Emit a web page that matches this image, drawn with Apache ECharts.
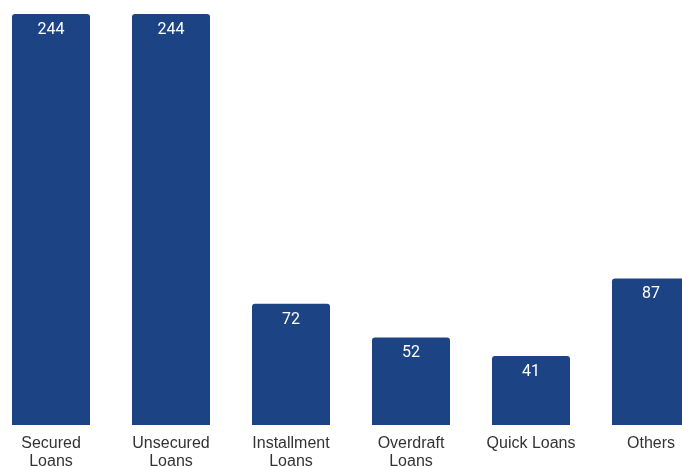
<!DOCTYPE html>
<html>
<head>
<meta charset="utf-8">
<script src="https://cdn.jsdelivr.net/npm/echarts@6/dist/echarts.min.js"></script>
<style>
  html, body { margin: 0; padding: 0; background: #fff; }
  #chart { width: 682px; height: 468px; }
</style>
</head>
<body>
<div id="chart"></div>
<script>
var categories = ['Secured\nLoans', 'Unsecured\nLoans', 'Installment\nLoans', 'Overdraft\nLoans', 'Quick Loans', 'Others'];
var counts = [244, 244, 72, 52, 41, 87];

var myChart = echarts.init(document.getElementById('chart'));
var option = {
  animation: false,
  // grid overflows the canvas so the last bar is cut at the right edge
  grid: { left: -9, width: 720, top: 14, bottom: 43, outerBoundsMode: 'none', containLabel: false },
  xAxis: {
    type: 'category',
    data: categories,
    axisLine: { show: false },
    axisTick: { show: false },
    axisLabel: {
      interval: 0,
      color: '#333',
      fontSize: 16,
      lineHeight: 18,
      margin: 10,
      hideOverlap: false,
      fontFamily: 'Liberation Sans'
    }
  },
  yAxis: {
    type: 'value',
    min: 0,
    max: 244,
    show: false,
    splitLine: { show: false }
  },
  series: [{
    type: 'bar',
    data: counts,
    barWidth: '65%',
    itemStyle: { color: '#1c4485', borderRadius: [3, 3, 0, 0] },
    label: {
      show: true,
      position: 'insideTop',
      distance: 8,
      color: '#fff',
      fontSize: 16,
      fontFamily: 'Roboto'
    }
  }]
};
myChart.setOption(option);
</script>
</body>
</html>
